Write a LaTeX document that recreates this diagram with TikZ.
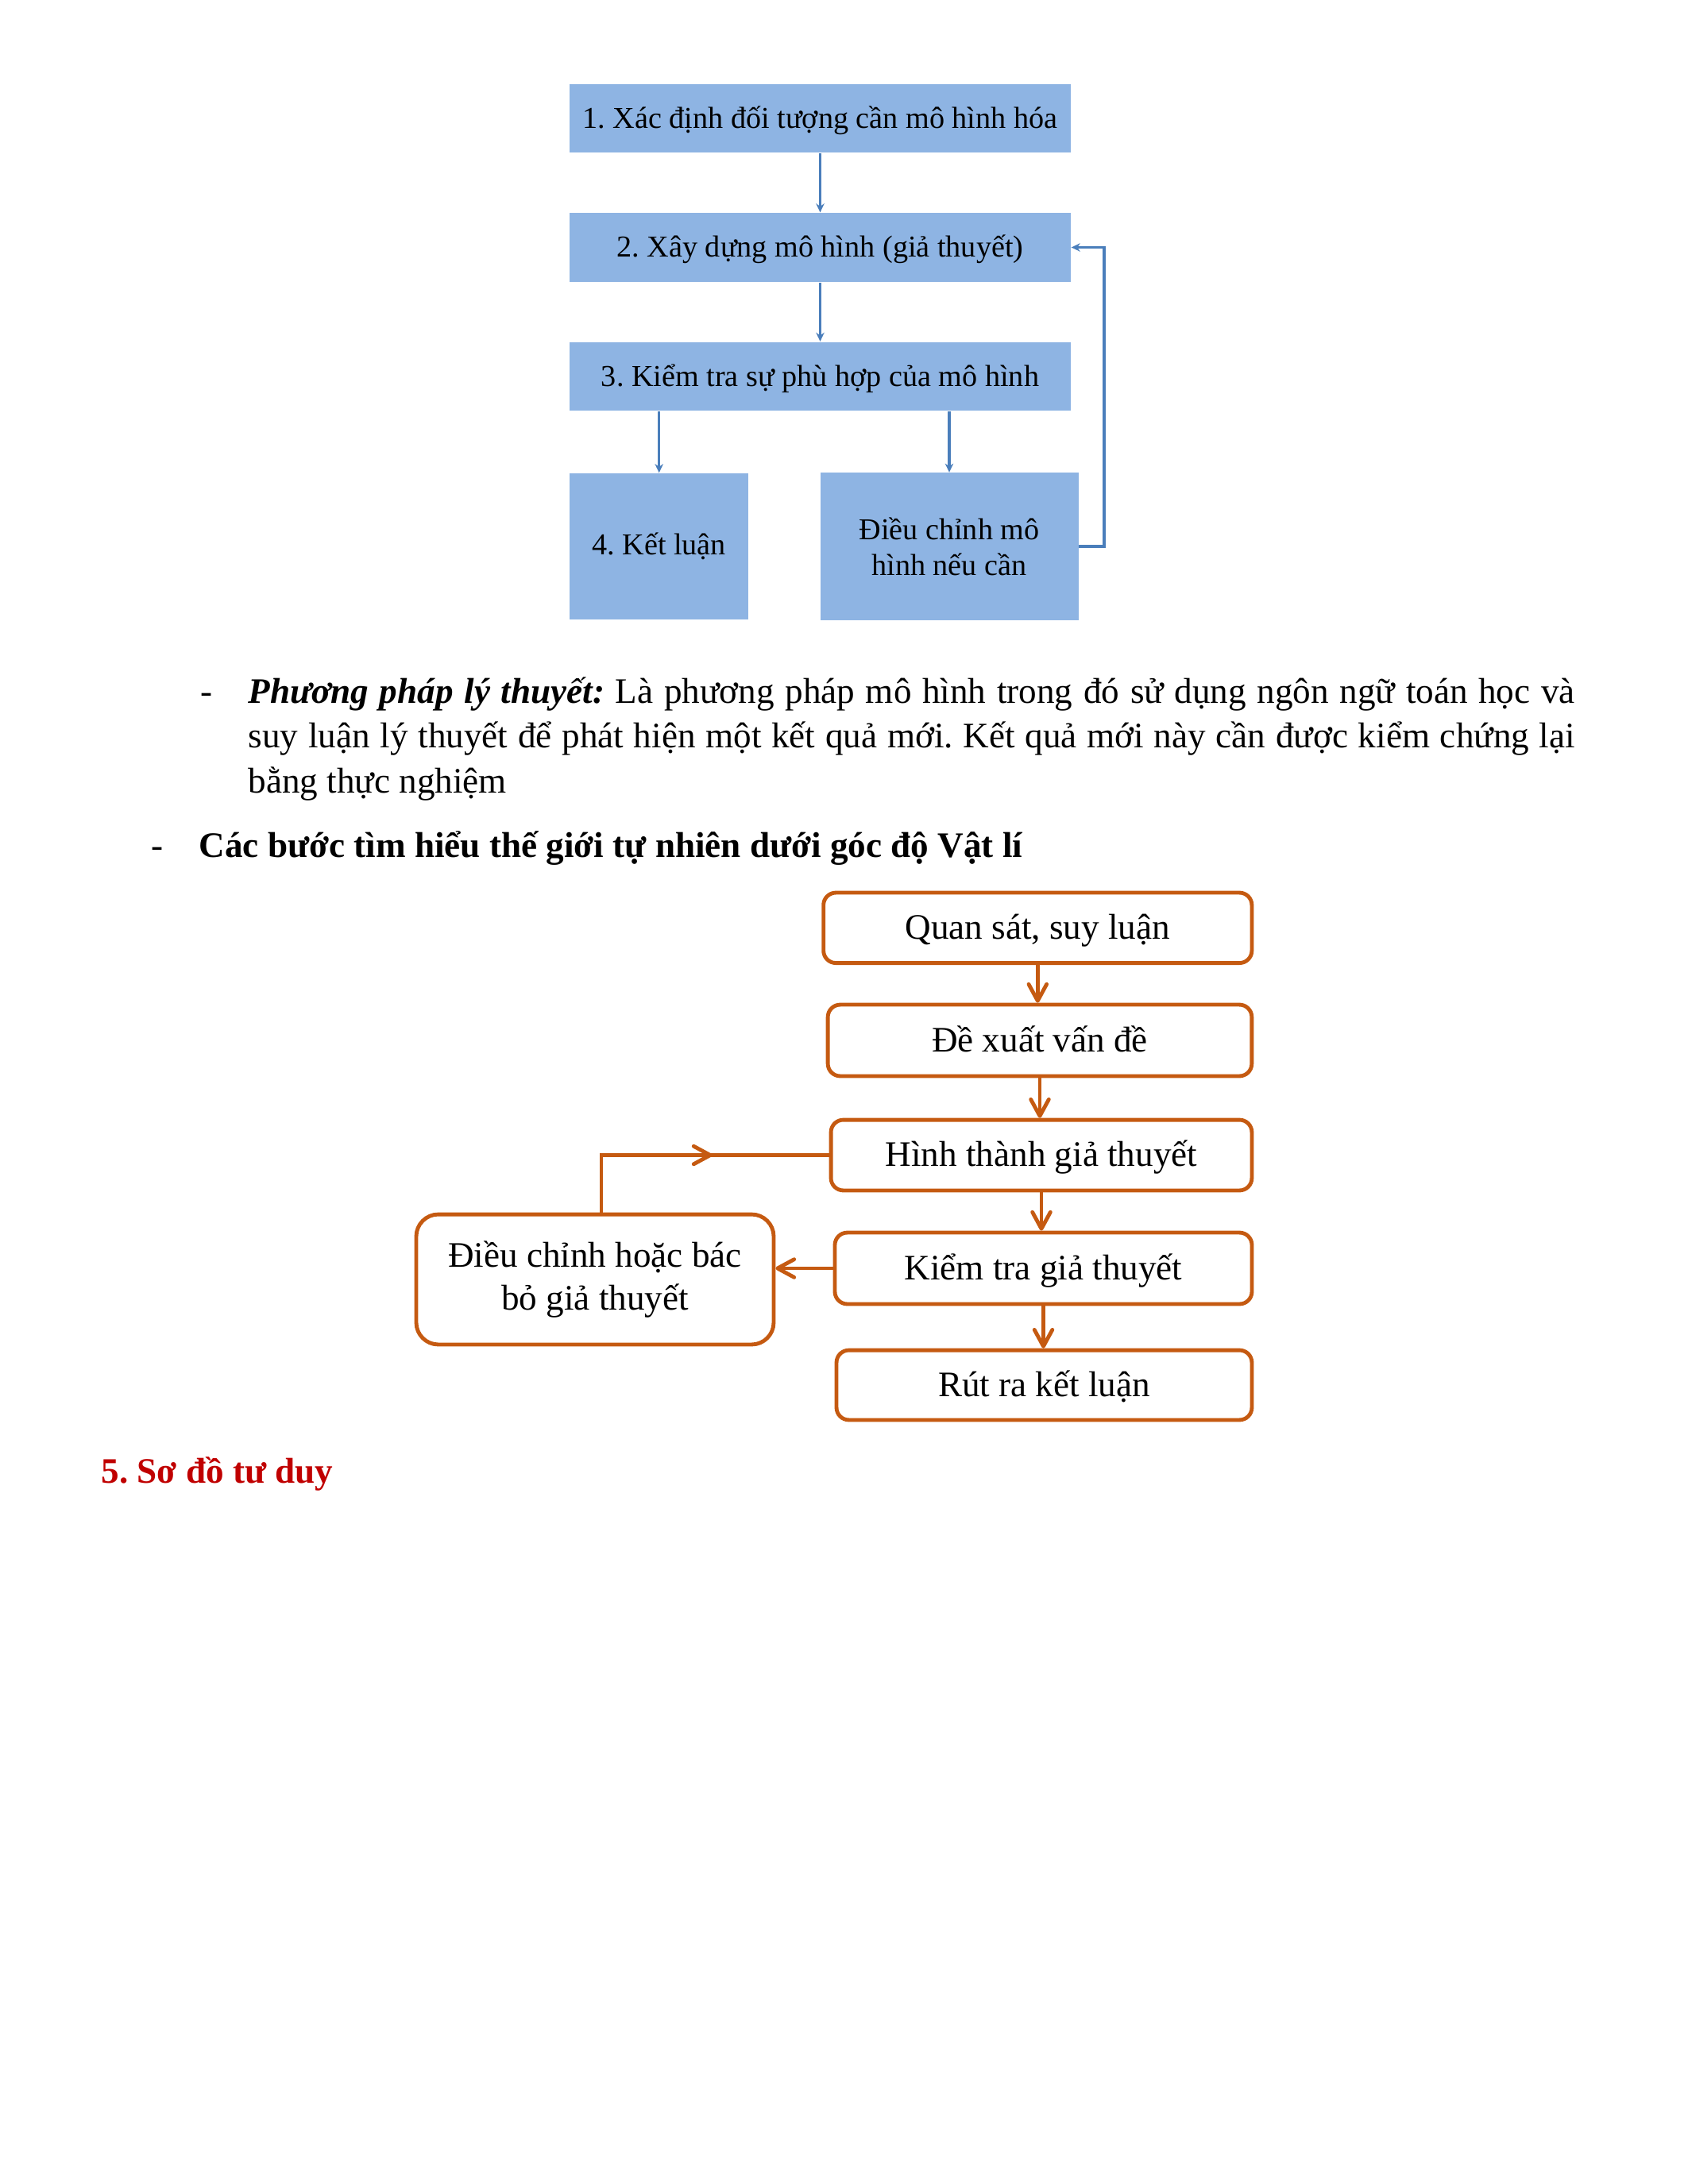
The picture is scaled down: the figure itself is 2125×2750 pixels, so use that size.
\documentclass[tikz,border=0pt]{standalone}
\usepackage{fontspec}
\setmainfont{Liberation Serif}
\usepackage{tikz}
\usetikzlibrary{arrows.meta, decorations.markings}
\definecolor{darkorange}{HTML}{C55A11}
\definecolor{lightblue}{HTML}{8EB4E3}
\definecolor{midblue}{HTML}{4A7EBB}
\definecolor{darkred}{HTML}{C00000}
\frenchspacing

\begin{document}
\begin{tikzpicture}[
  x=0.288pt, y=-0.288pt,
  mbox/.style={rectangle, fill=lightblue, inner sep=0pt, align=center, font=\fontsize{11}{12.9}\selectfont},
  mline/.style={mbox, text height=9.7pt, text depth=2.7pt, minimum width=181.7pt, minimum height=25pt},
  sbox/.style={rectangle, rounded corners=4.5pt, draw=darkorange, line width=1.4pt, inner sep=0pt, align=center, font=\fontsize{13}{15.5}\selectfont},
  sline/.style={sbox, text height=10.5pt, text depth=2.3pt},
  blink/.style={draw=midblue, line width=1pt, -{Stealth[length=3.2pt, width=3pt]}},
  olink/.style={draw=darkorange, line width=1.4pt, -{Straight Barb[length=6pt, width=6.5pt, round]}},
  txt/.style={inner sep=0pt, anchor=base west, font=\fontsize{13}{16.3}\selectfont}
]
  \useasboundingbox (0,0) rectangle (2125,2750);

  % model steps
  \node[mline] (m1) at (1032.5,149) {1. Xác định đối tượng cần mô hình hóa};
  \node[mline] (m2) at (1032.5,311.5) {2. Xây dựng mô hình (giả thuyết)};
  \node[mline] (m3) at (1032.5,474) {3. Kiểm tra sự phù hợp của mô hình};
  \node[mbox, minimum width=64.9pt, minimum height=53pt] (m4) at (829.7,688) {4. Kết luận};
  \node[mbox, minimum width=93.6pt, minimum height=53.3pt] (m5) at (1195,688) {Điều chỉnh mô\\hình nếu cần};

  \draw[blink] (m1) -- (m2);
  \draw[blink] (m2) -- (m3);
  \draw[blink] (m3.south -| m4) -- (m4);
  \draw[blink] (m3.south -| m5) -- (m5);
  \draw[blink] (m5.east) -- ++(32,0) |- (m2.east);

  % text
  \node[txt] (pdash) at (252,885) {-};
  \node[txt, text width=481pt, align=justify] (para) at (312,885)
    {\textbf{\textit{Phương pháp lý thuyết:}} Là phương pháp mô hình trong đó sử dụng ngôn ngữ toán học và\linebreak
     suy luận lý thuyết để phát hiện một kết quả mới. Kết quả mới này cần được kiểm chứng lại\linebreak
     bằng thực nghiệm};
  \node[txt] (hdash) at (190,1079) {-};
  \node[txt, font=\fontsize{13}{16.3}\selectfont\bfseries] (head) at (250,1079) {Các bước tìm hiểu thế giới tự nhiên dưới góc độ Vật lí};

  % physics steps
  \node[sline, minimum width=155.3pt, minimum height=25.5pt] (qs) at (1306.3,1168.3) {Quan sát, suy luận};
  \node[sline, minimum width=153.7pt, minimum height=25.9pt] (dx) at (1309,1310) {Đề xuất vấn đề};
  \node[sline, minimum width=152.6pt, minimum height=25.6pt] (ht) at (1311,1454.5) {Hình thành giả thuyết};
  \node[sline, minimum width=151.2pt, minimum height=25.9pt] (kt) at (1313.5,1597) {Kiểm tra giả thuyết};
  \node[sline, minimum width=150.6pt, minimum height=25.3pt] (rr) at (1314.5,1744) {Rút ra kết luận};
  \node[sbox, rounded corners=8pt, minimum width=129.6pt, minimum height=47.2pt] (dc) at (749,1611) {Điều chỉnh hoặc bác\\bỏ giả thuyết};

  \draw[olink] (qs) -- (qs.south |- dx.north);
  \draw[olink] (dx) -- (dx.south |- ht.north);
  \draw[olink] (ht) -- (ht.south |- kt.north);
  \draw[olink] (kt) -- (kt.south |- rr.north);
  \draw[olink] (kt.west) -- (kt.west -| dc.east);
  \draw[draw=darkorange, line width=1.4pt, postaction={decorate},
        decoration={markings, mark=at position 0.59 with {\arrow{Straight Barb[length=6pt, width=6.5pt, round]}}}]
        ([xshift=2.3pt]dc.north) |- (ht.west);

  \node[txt, font=\fontsize{13}{16.3}\selectfont\bfseries, text=darkred] (title) at (127,1867) {5. Sơ đồ tư duy};
\end{tikzpicture}
\end{document}
